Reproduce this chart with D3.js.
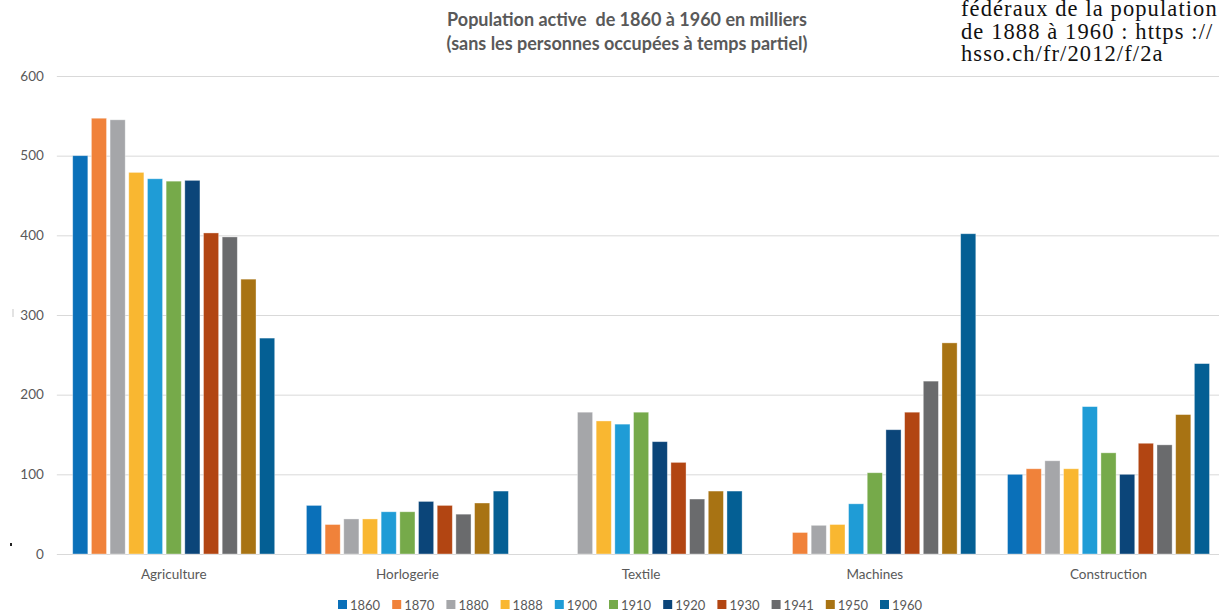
<!DOCTYPE html>
<html>
<head>
<meta charset="utf-8">
<script src="https://cdn.jsdelivr.net/npm/d3@7"></script>
<style>
  html, body { margin: 0; padding: 0; background: #ffffff; overflow: hidden; }
  svg { display: block; }
  .pre { white-space: pre; }
</style>
</head>
<body>
<svg id="chart" width="1219" height="613"></svg>
<script>
// ---- data ----
const categories = ["Agriculture", "Horlogerie", "Textile", "Machines", "Construction"];
const years = ["1860", "1870", "1880", "1888", "1900", "1910", "1920", "1930", "1941", "1950", "1960"];
const colors = ["#0a70b9", "#f0823a", "#a5a6a9", "#f9b731", "#1f9cd6", "#76aa4a", "#0b4579", "#b24512", "#6a6b6d", "#a87313", "#045f94"];
// values per year, in category order (null = no bar)
const v1860 = [500, 61, null, null, 100];
const v1870 = [547, 37, null, 27, 107];
const v1880 = [545, 44, 178, 36, 117];
const v1888 = [479, 44, 167, 37, 107];
const v1900 = [471, 53, 163, 63, 185];
const v1910 = [468, 53, 178, 102, 127];
const v1920 = [469, 66, 141, 156, 100];
const v1930 = [403, 61, 115, 178, 139];
const v1941 = [398, 50, 69, 217, 137];
const v1950 = [345, 64, 79, 265, 175];
const v1960 = [271, 79, 79, 402, 239];
const seriesValues = [v1860, v1870, v1880, v1888, v1900, v1910, v1920, v1930, v1941, v1950, v1960];
const yTicks = [0, 100, 200, 300, 400, 500, 600];
const titleLines = ["Population active  de 1860 à 1960 en milliers", "(sans les personnes occupées à temps partiel)"];
const noteLines = ["fédéraux de la population", "de 1888 à 1960 : https ://", "hsso.ch/fr/2012/f/2a"];

// ---- layout ----
const svg = d3.select("#chart");
const left = 56.85, groupStep = 233.7;
const y0 = 554, yTop = 76;
const sans = "Lato, 'Open Sans', sans-serif";

const x0 = d3.scaleBand().domain(categories).range([left, left + groupStep * categories.length]).padding(0);
const innerPad = (x0.bandwidth() - 202) / 2;
const x1 = d3.scaleBand().domain(years).range([innerPad, x0.bandwidth() - innerPad]).paddingInner(0.19).paddingOuter(0);
const y = d3.scaleLinear().domain([0, 600]).range([y0, yTop]);

// gridlines + y labels through d3 axis
const yAxis = d3.axisLeft(y).tickValues(yTicks).tickSize(-(1225 - left)).tickPadding(13).tickFormat(d3.format("d"));
const ga = svg.append("g").attr("transform", `translate(${left},0)`).call(yAxis);
ga.select(".domain").remove();
ga.selectAll(".tick line").attr("stroke", "#d9d9d9").attr("stroke-width", 1);
ga.selectAll(".tick text").attr("fill", "#595959").attr("font-family", sans).attr("font-size", 13.5);

// bars
const groups = svg.append("g").selectAll("g").data(categories).join("g")
  .attr("transform", d => `translate(${x0(d)},0)`);
groups.selectAll("rect")
  .data((c, ci) => years.map((yr, si) => ({ yr, si, v: seriesValues[si][ci] })).filter(d => d.v != null))
  .join("rect")
  .attr("x", d => x1(d.yr))
  .attr("width", x1.bandwidth())
  .attr("y", d => y(d.v))
  .attr("height", d => y0 - y(d.v))
  .attr("fill", d => colors[d.si])
  .attr("stroke", "#ffffff")
  .attr("stroke-opacity", 0.45)
  .attr("stroke-width", 0.8);

// x category labels
const xAxis = d3.axisBottom(x0).tickSize(0).tickPadding(15);
const gx = svg.append("g").attr("transform", `translate(0,${y0})`).call(xAxis);
gx.select(".domain").remove();
gx.selectAll(".tick text").attr("fill", "#595959").attr("font-family", sans).attr("font-size", 13.5);

// title
svg.append("g").selectAll("text").data(titleLines).join("text")
  .attr("class", "pre")
  .attr("x", 627).attr("y", (d, i) => 26 + i * 24)
  .attr("text-anchor", "middle")
  .attr("fill", "#595959")
  .attr("font-family", sans)
  .attr("font-weight", "bold")
  .attr("font-size", 18)
  .text(d => d);

// top-right note (serif)
svg.append("g").selectAll("text").data(noteLines).join("text")
  .attr("x", 961).attr("y", (d, i) => 16 + i * 22.5)
  .attr("fill", "#111111")
  .attr("font-family", "'Liberation Serif', 'DejaVu Serif', serif")
  .attr("font-size", 22.5)
  .attr("letter-spacing", 1.1)
  .text(d => d);

// legend
const leg = svg.append("g").selectAll("g").data(years).join("g")
  .attr("transform", (d, i) => `translate(${338 + i * 54.2},600)`);
leg.append("rect").attr("width", 9).attr("height", 9).attr("fill", (d, i) => colors[i]);
leg.append("text").attr("x", 12).attr("y", 9.5)
  .attr("fill", "#595959")
  .attr("font-family", sans)
  .attr("font-size", 13)
  .text(d => d);

// small stray marks from the source image
svg.append("rect").attr("x", 12.5).attr("y", 309).attr("width", 1).attr("height", 8).attr("fill", "#c8c8c8");
svg.append("rect").attr("x", 10).attr("y", 543).attr("width", 2).attr("height", 3).attr("fill", "#222222");
</script>
</body>
</html>
